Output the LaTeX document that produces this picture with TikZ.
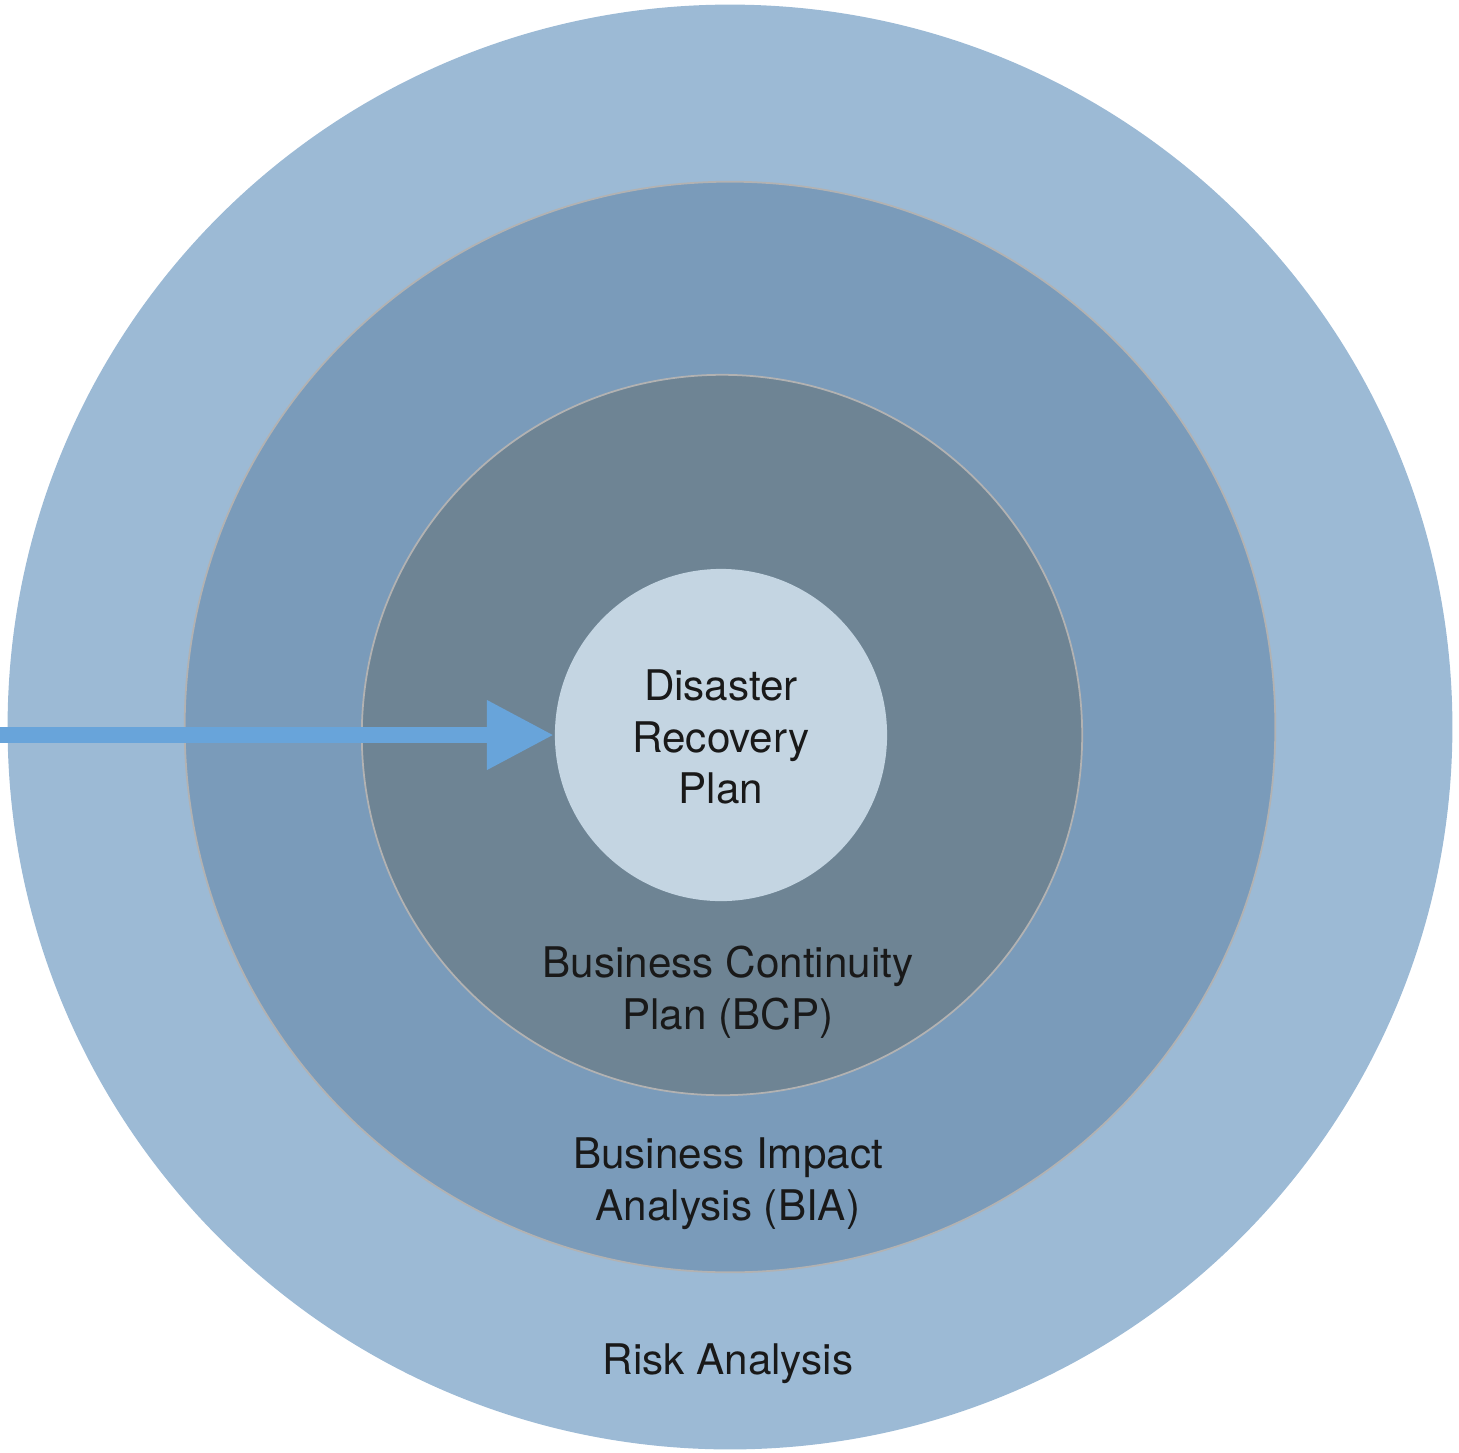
\documentclass[tikz,border=0pt]{standalone}
\usepackage{fontspec}
\setmainfont{TeX Gyre Heros}
\usepackage{xcolor}
\usepackage{tikz}
\usetikzlibrary{arrows.meta}

\definecolor{riskblue}{HTML}{9CBAD5}
\definecolor{biablue}{HTML}{7A9BBA}
\definecolor{bcpgrey}{HTML}{6E8494}
\definecolor{drplight}{HTML}{C4D5E2}
\definecolor{arrowblue}{HTML}{68A4DA}

\begin{document}
\begin{tikzpicture}[x=0.01cm, y=-0.01cm,
  ring/.style={circle, inner sep=0pt, draw=black!30, line width=0.5pt},
  ringtext/.style={align=center, text=black!90,
                   font=\fontsize{12}{14.75}\selectfont}]
\useasboundingbox (0,0) rectangle (1459,1453);

\node[ring, draw=none, fill=riskblue, minimum size=14.44cm] (risk) at (730,727) {};
\node[ring, fill=biablue,  minimum size=10.90cm] (bia)  at (730,727) {};
\node[ring, fill=bcpgrey,  minimum size=7.20cm]  (bcp)  at (722,735) {};
\node[ring, draw=none, fill=drplight, minimum size=3.32cm] (drp) at (721,735) {};

\coordinate (start) at (0,735);
\draw[arrowblue, line width=0.16cm, -{Triangle[length=0.67cm, width=0.65cm]}]
  (start) -- (drp.west);

\node[ringtext] (drptext)  at (721,737)  {Disaster\\Recovery\\Plan};
\node[ringtext] (bcptext)  at (728,992)  {Business Continuity\\Plan (BCP)};
\node[ringtext] (biatext)  at (728,1184) {Business Impact\\Analysis (BIA)};
\node[ringtext] (risktext) at (728,1364) {Risk Analysis};
\end{tikzpicture}
\end{document}
